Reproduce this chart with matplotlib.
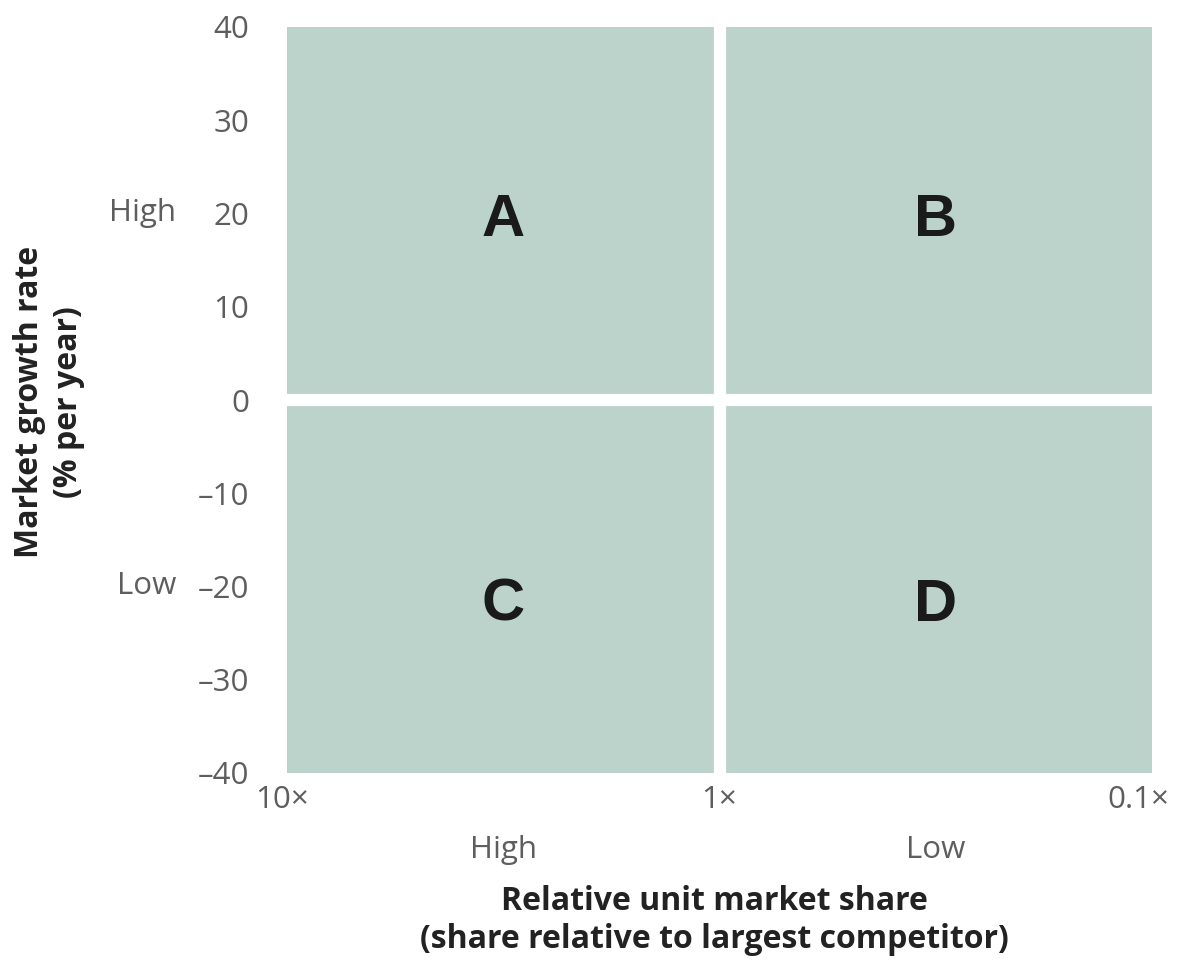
import matplotlib
matplotlib.use("Agg")
import matplotlib.pyplot as plt
import matplotlib.transforms as mtransforms

# Growth-share matrix: relative market share (log, reversed) vs market growth rate
share_ticks = [10, 1, 0.1]
share_tick_labels = ["10×", "1×", "0.1×"]
growth_ticks = [40, 30, 20, 10, 0, -10, -20, -30, -40]
growth_tick_labels = ["40", "30", "20", "10", "0", "\u201310", "\u201320", "\u201330", "\u201340"]

# Quadrants: (letter, share from, share to, growth from, growth to)
quad_letters = ["A", "B", "C", "D"]
quad_share_lo = [10, 1, 10, 1]
quad_share_hi = [1, 0.1, 1, 0.1]
quad_growth_lo = [0, 0, -40, -40]
quad_growth_hi = [40, 40, 0, 0]
quad_label_y = [19.3, 19.3, -22, -22]

share_level_names = ["High", "Low"]
share_level_pos = [10 ** 0.5, 10 ** -0.5]
growth_level_names = ["High", "Low"]
growth_level_pos = [20, -20]

FILL = "#bcd3cb"
TICK_GREY = "#5e5e5e"
DARK = "#222222"
FONT = "Open Sans"
TICK_SIZE = 22.5

fig = plt.figure(figsize=(11.84, 9.6), dpi=100)
ax = fig.add_axes([287 / 1184, 1 - 773 / 960, (1152 - 287) / 1184, (773 - 27) / 960])

ax.set_xscale("log")
ax.set_xlim(10, 0.1)
ax.set_ylim(-40, 40)

for letter, x0, x1, y0, y1, ly in zip(quad_letters, quad_share_lo, quad_share_hi,
                                       quad_growth_lo, quad_growth_hi, quad_label_y):
    ax.bar(x0, y1 - y0, width=x1 - x0, bottom=y0, align="edge",
           color=FILL, edgecolor="none", zorder=1)
    ax.text((x0 * x1) ** 0.5, ly, letter, ha="center", va="center",
            fontsize=43, fontweight="bold", color="#1a1a1a",
            family="Liberation Sans", zorder=3)

# white gutters between quadrants
ax.axvline(1, color="white", linewidth=8.8, zorder=2)
ax.axhline(0, color="white", linewidth=8.8, zorder=2)

for s in ax.spines.values():
    s.set_visible(False)

ax.set_xticks(share_ticks)
ax.set_xticklabels(share_tick_labels)
ax.xaxis.set_minor_locator(matplotlib.ticker.NullLocator())
ax.set_yticks(growth_ticks)
ax.set_yticklabels(growth_tick_labels)
ax.tick_params(axis="both", length=0, labelsize=TICK_SIZE, labelcolor=TICK_GREY)
ax.tick_params(axis="x", pad=9)
ax.tick_params(axis="y", pad=27)
for lbl in ax.get_xticklabels() + ax.get_yticklabels():
    lbl.set_family(FONT)

# nudge the end labels of the share axis inward a little
xlabels = ax.get_xticklabels()
for lbl, dx in zip(xlabels, [-5, 0, -14]):
    lbl.set_transform(lbl.get_transform() +
                      mtransforms.ScaledTranslation(dx / 100, 0, fig.dpi_scale_trans))

# level labels beside the axes
ytrans = mtransforms.blended_transform_factory(fig.transFigure, ax.transData)
for name, yv in zip(growth_level_names, growth_level_pos):
    ax.text(176 / 1184, yv, name, transform=ytrans, ha="right", va="center",
            fontsize=TICK_SIZE, color=TICK_GREY, family=FONT)

xtrans = mtransforms.blended_transform_factory(ax.transData, fig.transFigure)
for name, xv in zip(share_level_names, share_level_pos):
    ax.text(xv, 1 - 850 / 960, name, transform=xtrans, ha="center", va="center",
            fontsize=TICK_SIZE, color=TICK_GREY, family=FONT)

fig.text(714 / 1184, 1 - 920 / 960,
         "Relative unit market share\n(share relative to largest competitor)",
         ha="center", va="center", fontsize=23, fontweight="bold", color=DARK,
         family=FONT, linespacing=1.2)
fig.text(49 / 1184, 1 - 402 / 960, "Market growth rate\n(% per year)",
         ha="center", va="center", rotation=90, fontsize=23, fontweight="bold",
         color=DARK, family=FONT, linespacing=1.25)

fig.savefig("out.png", dpi=100, facecolor="white")
